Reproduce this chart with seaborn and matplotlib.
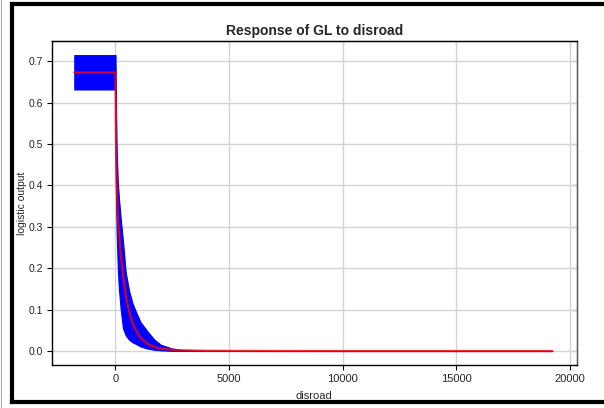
import matplotlib
matplotlib.use("Agg")
import matplotlib.pyplot as plt
import seaborn as sns
import pandas as pd
from matplotlib.lines import Line2D

# ---- data ----
disroad = [-1814, 0, 10, 25, 50, 100, 150, 230, 330, 450, 600, 750, 900, 1100,
           1400, 1700, 2000, 2500, 3000, 4000, 6000, 10000, 15000, 19230]
mean_out = [0.673, 0.673, 0.60, 0.50, 0.41, 0.33, 0.29, 0.235, 0.185, 0.135,
            0.095, 0.068, 0.05, 0.032, 0.018, 0.010, 0.006, 0.003, 0.0015,
            0.0005, 0.0001, 0.0, 0.0, 0.0]
upper_out = [0.715, 0.715, 0.66, 0.58, 0.49, 0.41, 0.37, 0.32, 0.265, 0.19,
             0.145, 0.115, 0.095, 0.07, 0.048, 0.028, 0.015, 0.006, 0.002,
             0.0005, 0.0001, 0.0, 0.0, 0.0]
lower_out = [0.632, 0.632, 0.46, 0.37, 0.29, 0.20, 0.15, 0.10, 0.055, 0.038,
             0.027, 0.021, 0.017, 0.011, 0.006, 0.003, 0.0015, 0.0005, 0.0002,
             0.0, 0.0, 0.0, 0.0, 0.0]
x_ticks = [0, 5000, 10000, 15000, 20000]
y_ticks = [0.0, 0.1, 0.2, 0.3, 0.4, 0.5, 0.6, 0.7]
title = "Response of GL to disroad"
xlabel = "disroad"
ylabel = "logistic output"

df = pd.DataFrame({"disroad": disroad, "mean": mean_out,
                   "upper": upper_out, "lower": lower_out})

sns.set_style("white")
plt.rcParams["font.family"] = ["Liberation Sans", "DejaVu Sans"]

fig = plt.figure(figsize=(6.04, 4.08), dpi=100)
ax = fig.add_axes([51.7 / 604, 1 - 365 / 408, (576.7 - 51.7) / 604, (365 - 40.7) / 408])

ax.fill_between(df["disroad"], df["lower"], df["upper"], color="#0000ff",
                edgecolor="#0000ff", linewidth=0.8, zorder=2)
sns.lineplot(data=df, x="disroad", y="mean", ax=ax, color="#ff0000",
             alpha=0.8, linewidth=1.6, zorder=3)

ax.set_xlim(-2809, 20308)
ax.set_ylim(-0.0338, 0.7498)
ax.set_xticks(x_ticks)
ax.set_yticks(y_ticks)
ax.set_xticklabels([str(t) for t in x_ticks])
ax.set_yticklabels([f"{t:.1f}" for t in y_ticks])
ax.grid(True, color="#d4d4d4", linewidth=1.0, zorder=0)
ax.set_axisbelow(True)

for s in ax.spines.values():
    s.set_color("black")
    s.set_linewidth(1.0)
    s.set_visible(True)
ax.spines["right"].set_color("#555555")

ax.tick_params(axis="x", direction="out", length=3.5, width=0.8,
               labelsize=8, color="black", pad=3, bottom=True)
ax.tick_params(axis="y", direction="out", length=3.5, width=0.8,
               labelsize=7.5, color="black", pad=2.5, left=True)

secx = ax.secondary_xaxis("top")
secx.set_xticks(x_ticks)
secx.tick_params(direction="in", length=3.5, width=0.8, labeltop=False)
secx.spines["top"].set_color("black")
secy = ax.secondary_yaxis("right")
secy.set_yticks(y_ticks)
secy.tick_params(direction="in", length=3.5, width=0.8, labelright=False)
secy.spines["right"].set_color("#555555")

ax.set_title(title, fontsize=10, fontweight="bold", pad=4)
ax.set_xlabel(xlabel, fontsize=8, labelpad=5)
ax.set_ylabel(ylabel, fontsize=7.5, labelpad=1)

# outer frame of the screenshot (left, top, bottom edges only)
W, H = 604.0, 408.0
xl, yt, yb = 12 / W, 1 - 4 / H, 6 / H
for xs, ys in [([xl, xl], [yb, yt]), ([xl, 1.0], [yt, yt]), ([xl, 1.0], [yb, yb])]:
    fig.lines.append(Line2D(xs, ys, transform=fig.transFigure, color="black",
                            linewidth=3.0, solid_capstyle="projecting"))
fig.lines.append(Line2D([0.5 / W, 0.5 / W], [0, 1], transform=fig.transFigure,
                        color="#aaaaaa", linewidth=0.8))

fig.savefig("out.png", dpi=100)
